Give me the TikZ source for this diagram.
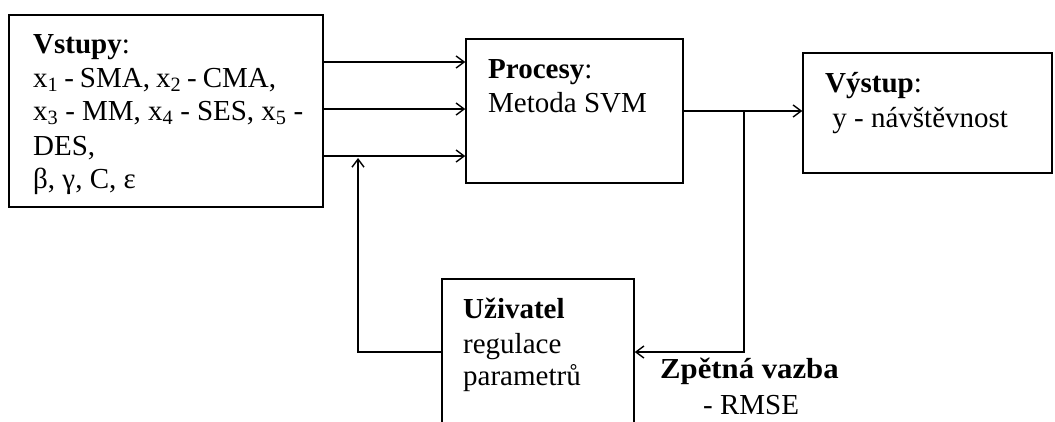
\documentclass[tikz,border=0pt]{standalone}
\usepackage{fontspec}
\setmainfont{Liberation Serif}
\usetikzlibrary{arrows.meta}
\newcommand{\fitline}[2]{\hbox to #1{\spaceskip=2pt plus 1fil\xspaceskip=2pt plus 1fil\relax #2}}
\tikzset{
  box/.style={draw, line width=1.5pt, inner sep=0pt},
  arr/.style={line width=1.4pt, -{Straight Barb[length=8pt,width=12pt,line width=1.4pt]}},
  txt/.style={anchor=base west, inner sep=0pt, font=\fontsize{29}{34}\selectfont},
}
\begin{document}
\begin{tikzpicture}[x=1pt,y=-1pt]
\clip (0,0) rectangle (1055,421);
\fill[white] (0,0) rectangle (1055,421);
% boxes
\node[box, minimum width=314pt, minimum height=192pt] (vst) at (166,111) {};
\node[box, minimum width=217pt, minimum height=144pt] (pro) at (574.5,111) {};
\node[box, minimum width=249pt, minimum height=120pt] (vys) at (927.5,113) {};
\node[box, minimum width=192pt, minimum height=170pt] (uzi) at (538,364) {};
% texts
\node[txt] (v1) at (33,53) {\textbf{Vstupy}:};
\node[txt] (v2) at (33,87) {\fitline{243pt}{x\textsubscript{1} - SMA, x\textsubscript{2} - CMA,}};
\node[txt] (v3) at (33,120) {\fitline{270pt}{x\textsubscript{3} - MM, x\textsubscript{4} - SES, x\textsubscript{5} -}};
\node[txt] (v4) at (33,155) {DES,};
\node[txt] (v5) at (33,188) {β, γ, C, ε};
\node[txt] (p1) at (488,78) {\textbf{Procesy}:};
\node[txt] (p2) at (488,112) {Metoda SVM};
\node[txt] (o1) at (825,92) {\textbf{Výstup}:};
\node[txt] (o2) at (825,127) {\ y - návštěvnost};
\node[txt] (u1) at (463,318) {\textbf{Uživatel}};
\node[txt] (u2) at (463,353) {regulace};
\node[txt] (u3) at (463,385) {parametrů};
\node[txt] (z1) at (660,378) {\addfontfeatures{FakeStretch=1.06}\textbf{Zpětná vazba}};
\node[txt] (z2) at (703,414) {- RMSE};
% helper coordinates
\coordinate (r1) at (0,62);
\coordinate (r2) at (0,109);
\coordinate (r3) at (0,156);
\coordinate (ro) at (0,111);
\coordinate (br) at (744,111);
\coordinate (fb) at (0,352);
\coordinate (up) at (358,158);
% connectors
\draw[arr] (vst.east |- r1) -- (pro.west |- r1);
\draw[arr] (vst.east |- r2) -- (pro.west |- r2);
\draw[arr] (vst.east |- r3) -- (pro.west |- r3);
\draw[arr] (pro.east |- ro) -- (vys.west |- ro);
\draw[arr] (br) |- (uzi.east |- fb);
\draw[arr] (uzi.west |- fb) -| (up);
\end{tikzpicture}
\end{document}
